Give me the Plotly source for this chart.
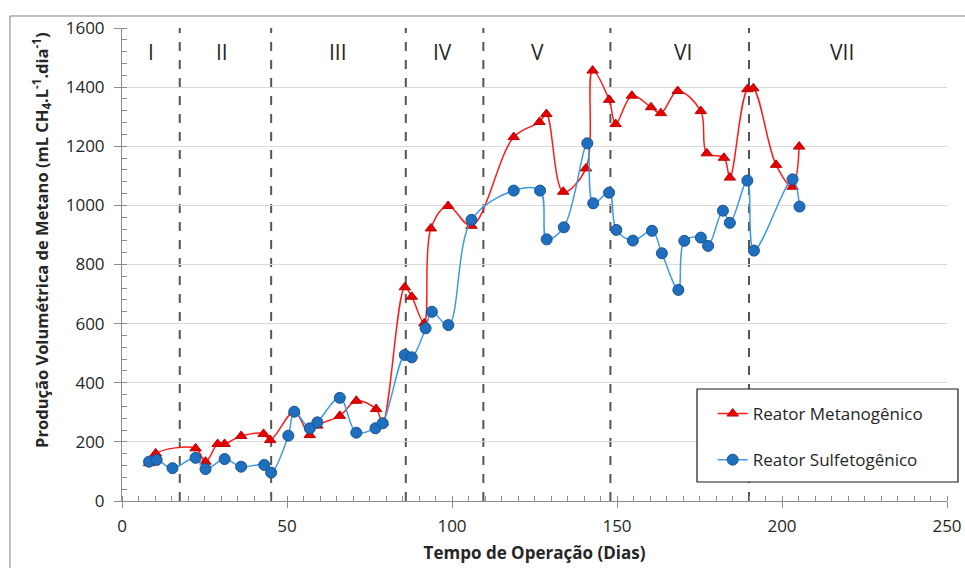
import plotly.graph_objects as go

# Reator Metanogênico (dia, mL CH4/L.dia)
dias_met = [8.2, 10.2, 22.3, 25.3, 29.0, 31.1, 36.1, 42.9, 44.9, 52.2, 56.9, 59.2,
            66.0, 71.0, 77.0, 79.0, 85.7, 87.8, 91.6, 93.6, 98.8, 105.9, 118.7,
            126.5, 128.6, 133.7, 140.6, 142.6, 147.6, 149.6, 154.5, 160.3, 163.3,
            168.4, 175.4, 177.2, 182.4, 184.2, 189.5, 191.3, 198.2, 203.2, 205.2]
prod_met = [128, 161, 178, 133, 193, 193, 220, 227, 206, 302, 223, 255,
            288, 339, 311, 265, 723, 691, 601, 922, 998, 931, 1231,
            1282, 1309, 1046, 1125, 1456, 1357, 1275, 1371, 1332, 1312,
            1387, 1319, 1176, 1161, 1094, 1393, 1396, 1137, 1063, 1199]

# Reator Sulfetogênico
dias_sul = [8.2, 10.5, 15.3, 22.3, 25.3, 31.1, 36.1, 43.1, 45.2, 50.4, 52.2, 56.9,
            59.2, 66.0, 71.0, 76.8, 79.0, 85.7, 87.8, 92.0, 93.9, 98.9, 105.9,
            118.7, 126.7, 128.7, 133.9, 141.0, 142.8, 147.6, 149.8, 154.8, 160.6,
            163.6, 168.6, 170.4, 175.4, 177.6, 182.1, 184.2, 189.5, 191.5, 203.2, 205.3]
prod_sul = [133, 139, 111, 146, 108, 142, 116, 122, 96, 221, 302, 246,
            266, 349, 231, 246, 263, 494, 486, 584, 640, 595, 951,
            1050, 1050, 885, 926, 1210, 1007, 1043, 917, 881, 914,
            838, 714, 880, 891, 863, 982, 941, 1084, 847, 1088, 996]

# Limites entre as fases operacionais e rótulos das fases
limites_fase = [17.5, 45.2, 86.0, 109.5, 148.0, 190.0]
fases = ["I", "II", "III", "IV", "V", "VI", "VII"]
centro_fase = [8.8, 30.3, 65.5, 97.0, 125.8, 170.0, 218.2]
y_rotulo_fase = 1519

titulo_x = "<b>Tempo de Operação (Dias)</b>"
titulo_y = ("<b>Produção Volumétrica de Metano "
            "(mL CH<sub>4</sub>.L<sup>-1</sup>.dia<sup>-1</sup>)</b>")

FONT = "Open Sans"
TXT = "#262626"

fig = go.Figure()
fig.add_trace(go.Scatter(
    x=dias_met, y=prod_met, mode="lines+markers", name="Reator Metanogênico",
    legendgroup="met",
    line=dict(color="#ff1a1a", width=1.5, shape="spline", smoothing=1.0),
    marker=dict(symbol="triangle-up", size=10, color="#e60000",
                line=dict(color="#c00000", width=1)),
))
fig.add_trace(go.Scatter(
    x=dias_sul, y=prod_sul, mode="lines+markers", name="Reator Sulfetogênico",
    legendgroup="sul",
    line=dict(color="#3d9be3", width=1.5, shape="spline", smoothing=1.0),
    marker=dict(symbol="circle", size=11, color="#1f6fc0",
                line=dict(color="#1a538f", width=1)),
))

shapes = []
for d in limites_fase:
    shapes.append(dict(type="line", xref="x", yref="paper", x0=d, x1=d, y0=0, y1=1,
                       line=dict(color="#555555", width=2, dash="dash"), layer="below"))
# caixa da legenda
shapes.append(dict(type="rect", xref="paper", yref="paper",
                   x0=0.697, x1=1.0133, y0=0.0402, y1=0.2368,
                   line=dict(color="#1a1a1a", width=1.2), fillcolor="white", layer="above"))
# moldura externa do gráfico
shapes.append(dict(type="rect", xref="paper", yref="paper",
                   x0=-0.1358, x1=1.3, y0=-0.4, y1=1.0254,
                   line=dict(color="#808080", width=1), fillcolor="rgba(0,0,0,0)", layer="above"))

annotations = [dict(x=cx, y=y_rotulo_fase, xref="x", yref="y", text=t, showarrow=False,
                    font=dict(family=FONT, size=21, color=TXT))
               for cx, t in zip(centro_fase, fases)]
# título do eixo vertical
annotations.append(dict(x=-0.097, y=0.552, xref="paper", yref="paper", text=titulo_y,
                        textangle=-90, showarrow=False, xanchor="center", yanchor="middle",
                        font=dict(family=FONT, size=16.5, color=TXT)))

fig.update_layout(
    width=965, height=568,
    margin=dict(l=122, r=18, t=28, b=67, autoexpand=False),
    paper_bgcolor="white", plot_bgcolor="white",
    font=dict(family=FONT, size=17, color=TXT),
    shapes=shapes, annotations=annotations,
    showlegend=True,
    legend=dict(x=0.716, y=0.222, xanchor="left", yanchor="top",
                bgcolor="rgba(0,0,0,0)", borderwidth=0,
                font=dict(family=FONT, size=17, color=TXT),
                traceorder="grouped", tracegroupgap=21),
    xaxis=dict(range=[0, 250], dtick=50, tick0=0, showgrid=False, zeroline=False,
               showline=True, linecolor="#8c8c8c", linewidth=1,
               ticks="outside", ticklen=6, tickcolor="#8c8c8c",
               ticklabelstandoff=4,
               minor=dict(dtick=5, ticks="inside", ticklen=5, tickcolor="#8c8c8c"),
               tickfont=dict(family=FONT, size=17, color=TXT),
               title=dict(text=titulo_x, standoff=10,
                          font=dict(family=FONT, size=17, color=TXT))),
    yaxis=dict(range=[0, 1600], dtick=200, tick0=0, showgrid=True, gridcolor="#d9d9d9",
               gridwidth=1, zeroline=False,
               showline=True, linecolor="#8c8c8c", linewidth=1,
               ticks="outside", ticklen=7, tickcolor="#8c8c8c",
               ticklabelstandoff=6,
               minor=dict(dtick=40, ticks="inside", ticklen=5, tickcolor="#8c8c8c",
                          showgrid=False),
               tickfont=dict(family=FONT, size=17, color=TXT)),
)

fig.write_html("out.html")
